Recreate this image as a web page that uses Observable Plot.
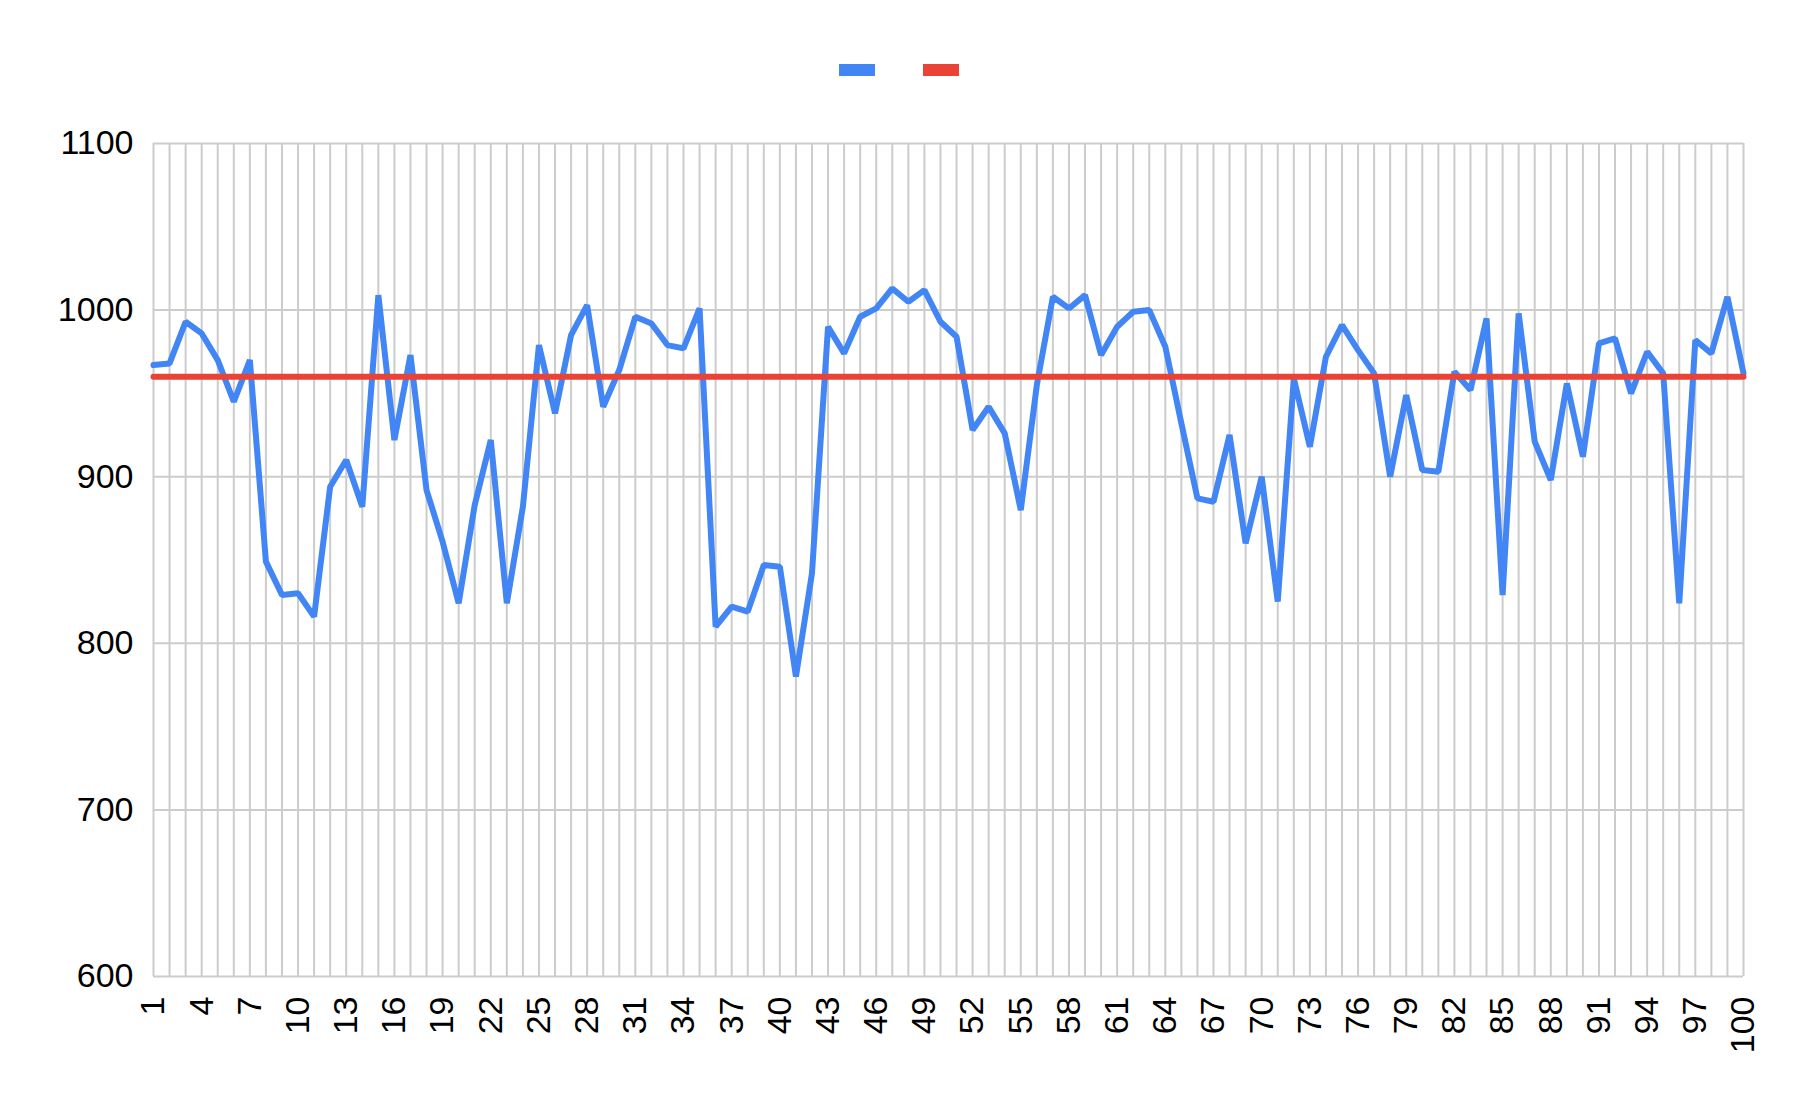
<!DOCTYPE html>
<html>
<head>
<meta charset="utf-8">
<script src="https://cdn.jsdelivr.net/npm/d3@7"></script>
<script src="https://cdn.jsdelivr.net/npm/@observablehq/plot@0.6"></script>
<style>
  html, body { margin: 0; padding: 0; background: #fff; }
  #legend { width: 1798px; height: 100px; box-sizing: border-box; padding-top: 64px; display: flex; justify-content: center; gap: 48px; }
  .sw { width: 36px; height: 12px; }
</style>
</head>
<body>
<div id="legend">
  <div class="sw" style="background:#4285F4"></div>
  <div class="sw" style="background:#EA4335"></div>
</div>
<div id="chart"></div>
<script>
const days = d3.range(1, 101);
const values = [
  967, 968, 993, 986, 970, 945, 970, 849, 829, 830,
  816, 894, 910, 882, 1009, 922, 973, 892, 861, 824,
  883, 922, 824, 882, 979, 938, 985, 1003, 942, 964,
  996, 992, 979, 977, 1001, 810, 822, 819, 847, 846,
  780, 842, 990, 974, 996, 1001, 1013, 1005, 1012, 993,
  984, 928, 942, 926, 880, 955, 1008, 1001, 1009, 973,
  990, 999, 1000, 978, 932, 887, 885, 925, 860, 900,
  825, 959, 918, 972, 991, 976, 962, 900, 949, 904,
  903, 963, 952, 995, 829, 998, 921, 898, 956, 912,
  980, 983, 950, 975, 962, 824, 982, 974, 1008, 962
];
const target = 960;
const xTicks = [1,4,7,10,13,16,19,22,25,28,31,34,37,40,43,46,49,52,55,58,61,64,67,70,73,76,79,82,85,88,91,94,97,100];
const yTicks = [600, 700, 800, 900, 1000, 1100];

const series = days.map((d, i) => ({day: d, value: values[i]}));
const targetLine = [{day: days[0], value: target}, {day: days[days.length - 1], value: target}];

const chart = Plot.plot({
  width: 1798,
  height: 1010,
  marginTop: 43,
  marginLeft: 153,
  marginRight: 55,
  marginBottom: 134,
  style: {fontFamily: "'Liberation Sans', Arial, sans-serif", fontSize: "34px", color: "#000", background: "#fff"},
  x: {domain: [1, 100]},
  y: {domain: [600, 1100]},
  marks: [
    Plot.gridX(days, {stroke: "#cccccc", strokeWidth: 2, strokeOpacity: 1}),
    Plot.gridY(yTicks, {stroke: "#cccccc", strokeWidth: 2, strokeOpacity: 1}),
    Plot.axisY(yTicks, {tickSize: 0, tickPadding: 20, label: null, fontSize: 34, fill: "#000", tickFormat: d => String(d)}),
    Plot.axisX(xTicks, {tickSize: 0, tickRotate: -90, tickPadding: 20, label: null, fontSize: 34, fill: "#000", tickFormat: d => String(d)}),
    Plot.line(series, {x: "day", y: "value", stroke: "#4285F4", strokeWidth: 6, strokeLinejoin: "miter"}),
    Plot.line(targetLine, {x: "day", y: "value", stroke: "#EA4335", strokeWidth: 6})
  ]
});
document.getElementById("chart").appendChild(chart);
</script>
</body>
</html>
